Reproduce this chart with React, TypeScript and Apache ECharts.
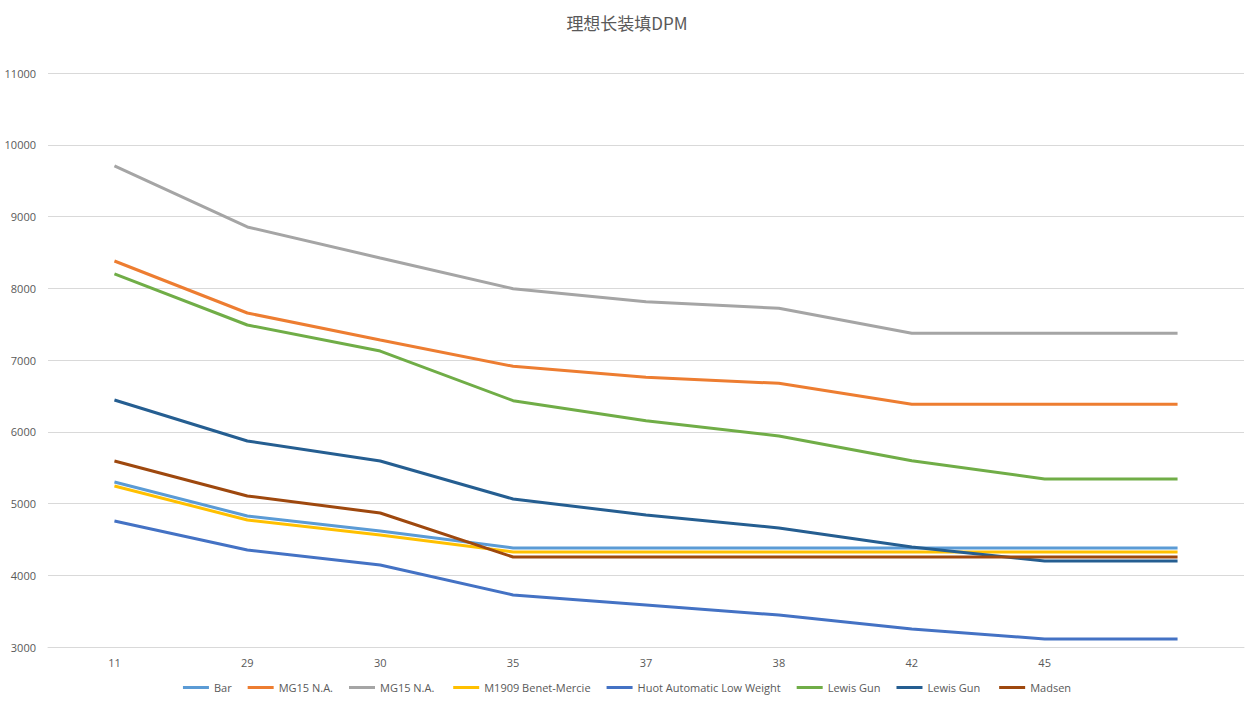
import React, { useEffect, useRef } from "react";
import * as echarts from "echarts";

const categories = ["11", "29", "30", "35", "37", "38", "42", "45", ""];
const yTicks = [3000, 11000, 1000];

const barValues = [5300, 4826, 4617, 4380, 4380, 4380, 4380, 4380, 4380];
const mg15OrangeValues = [8380, 7655, 7279, 6912, 6759, 6675, 6383, 6383, 6383];
const mg15GreyValues = [9704, 8854, 8422, 7993, 7812, 7720, 7372, 7372, 7372];
const m1909Values = [5244, 4770, 4561, 4324, 4324, 4324, 4324, 4324, 4324];
const huotValues = [4756, 4352, 4143, 3725, 3585, 3446, 3251, 3111, 3111];
const lewisGreenValues = [8199, 7488, 7125, 6433, 6154, 5941, 5597, 5341, 5341];
const lewisDarkValues = [6443, 5871, 5592, 5063, 4840, 4659, 4394, 4199, 4199];
const madsenValues = [5592, 5105, 4868, 4254, 4254, 4254, 4254, 4254, 4254];

const seriesNames = [
  "Bar",
  "MG15 N.A.",
  "MG15 N.A. ",
  "M1909 Benet-Mercie",
  "Huot Automatic Low Weight",
  "Lewis Gun",
  "Lewis Gun ",
  "Madsen",
];
const seriesColors = ["#5B9BD5", "#ED7D31", "#A5A5A5", "#FFC000", "#4472C4", "#70AD47", "#255E91", "#9E480E"];
const seriesData = [
  barValues,
  mg15OrangeValues,
  mg15GreyValues,
  m1909Values,
  huotValues,
  lewisGreenValues,
  lewisDarkValues,
  madsenValues,
];

export default function App() {
  const ref = useRef<HTMLDivElement>(null);
  useEffect(() => {
    document.body.style.margin = "0";
    const chart = echarts.init(ref.current!, undefined, { renderer: "svg" });
    const font = "'Open Sans', 'Noto Sans CJK SC', sans-serif";
    chart.setOption({
      animation: false,
      backgroundColor: "#ffffff",
      title: {
        text: "理想长装填DPM",
        left: "center",
        top: 9,
        textStyle: { fontSize: 17, fontWeight: "normal", color: "#595959", fontFamily: "'Noto Sans CJK SC', sans-serif" },
      },
      legend: {
        data: seriesNames,
        bottom: 8,
        left: "center",
        icon: "rect",
        itemWidth: 26,
        itemHeight: 3,
        itemGap: 16,
        textStyle: { fontSize: 11, color: "#595959", fontFamily: font },
      },
      grid: { left: 48, right: 10, top: 73, bottom: 59 },
      xAxis: {
        type: "category",
        data: categories,
        boundaryGap: true,
        axisLine: { show: true, lineStyle: { color: "#d9d9d9" } },
        axisTick: { show: false },
        axisLabel: { fontSize: 11, color: "#595959", margin: 10, fontFamily: font },
      },
      yAxis: {
        type: "value",
        min: yTicks[0],
        max: yTicks[1],
        interval: yTicks[2],
        axisLine: { show: false },
        axisTick: { show: false },
        axisLabel: {
          fontSize: 11,
          color: "#595959",
          margin: 12,
          fontFamily: font,
          formatter: (v: number) => String(v),
        },
        splitLine: { lineStyle: { color: "#d9d9d9", width: 1 } },
      },
      series: seriesNames.map((name, i) => ({
        name,
        type: "line",
        data: seriesData[i],
        symbol: "none",
        showSymbol: false,
        color: seriesColors[i],
        lineStyle: { width: 3, color: seriesColors[i] },
      })),
    });
    return () => chart.dispose();
  }, []);
  return <div ref={ref} style={{ width: 1254, height: 706 }} />;
}
